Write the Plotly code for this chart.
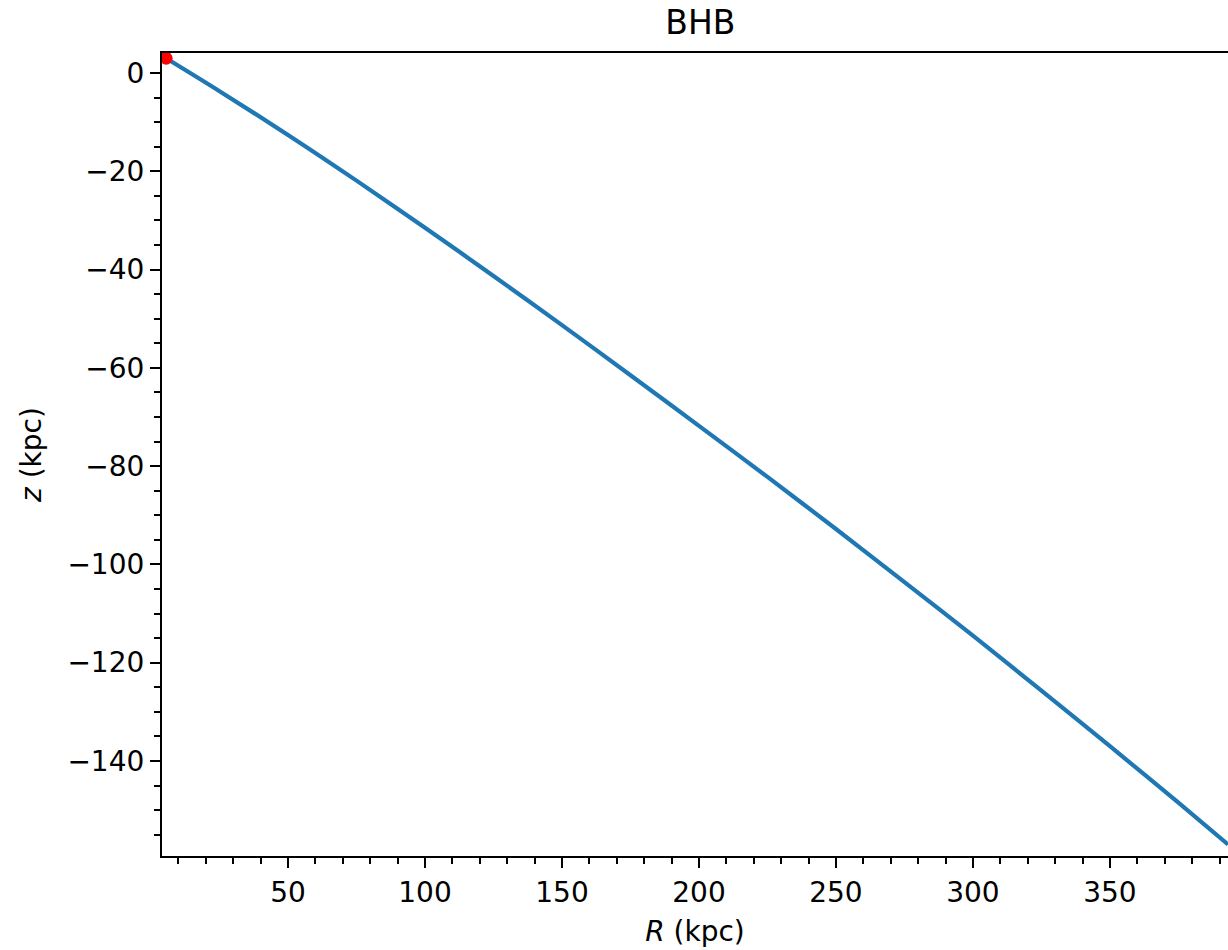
import plotly.graph_objects as go

# Orbit track
R_kpc = [5.5, 25, 50, 75, 100, 125, 150, 175, 200, 225, 250, 275, 300, 325, 350, 375, 393.1]
z_kpc = [3.0, -3.7, -12.6, -21.9, -31.5, -41.3, -51.3, -61.5, -71.8, -82.2, -92.8, -103.6, -114.5, -125.7, -137.0, -148.5, -157.0]

# Starting point
R_start = [5.5]
z_start = [3.0]

FONT = "DejaVu Sans"

fig = go.Figure()
fig.add_trace(go.Scatter(x=R_kpc, y=z_kpc, mode="lines",
                         line=dict(color="#1f77b4", width=4.2, shape="spline", smoothing=0.8),
                         showlegend=False))
fig.add_trace(go.Scatter(x=R_start, y=z_start, mode="markers",
                         marker=dict(color="#ff0000", size=13, line=dict(width=0)),
                         showlegend=False))

axis_common = dict(
    showgrid=False, zeroline=False, showline=True, linecolor="black", linewidth=2.2,
    ticks="outside", ticklen=10, tickwidth=2.2, tickcolor="black",
    tickfont=dict(family=FONT, size=28, color="black"),
)

fig.update_xaxes(
    range=[4.0, 393.1], tick0=0, dtick=50, mirror=True,
    minor=dict(ticks="outside", ticklen=6, tickwidth=1.7, tickcolor="black", dtick=10, tick0=0, showgrid=False),
    title=dict(text="<i>R</i> (kpc)", font=dict(family=FONT, size=28, color="black"), standoff=14),
    **axis_common,
)
fig.update_yaxes(
    range=[-159.34, 4.07], tick0=0, dtick=20,
    minor=dict(ticks="outside", ticklen=6, tickwidth=1.7, tickcolor="black", dtick=5, tick0=0, showgrid=False),
    title=dict(text="<i>z</i> (kpc)", font=dict(family=FONT, size=28, color="black"), standoff=18),
    **axis_common,
)

fig.update_layout(
    width=1228, height=950,
    margin=dict(l=162, r=0, t=53, b=94, autoexpand=False),
    paper_bgcolor="white", plot_bgcolor="white",
    title=dict(text="BHB", font=dict(family=FONT, size=33, color="black"),
               x=0.505, xanchor="center", xref="paper", y=1 - 22 / 950, yanchor="middle", yref="container"),
)

fig.write_html("out.html")
